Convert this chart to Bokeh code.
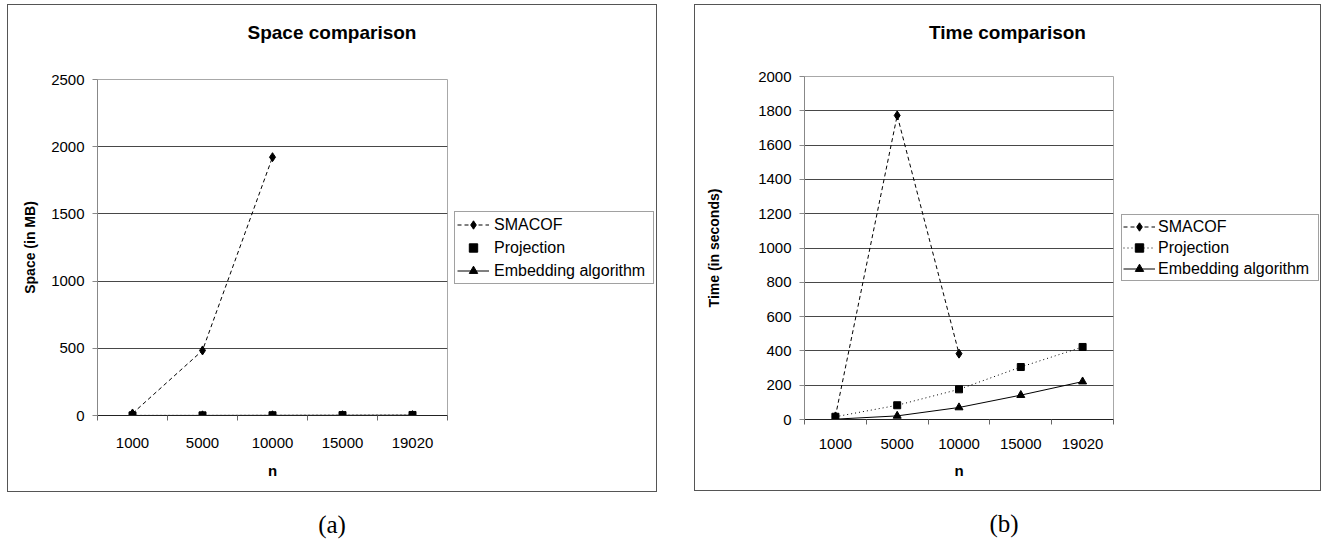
from bokeh.plotting import figure
from bokeh.models import (Range1d, FixedTicker, SingleIntervalTicker, Legend, LegendItem,
                          Div, Spacer)
from bokeh.layouts import row, column
from bokeh.embed import file_html
from bokeh.resources import INLINE

nan = float("nan")

# ---------------- data ----------------
categories = ["1000", "5000", "10000", "15000", "19020"]
series_names = ["SMACOF", "Projection", "Embedding algorithm"]

space_smacof = [15, 484, 1922, nan, nan]
space_projection = [1, 1, 2, 3, 4]
space_embedding = [0.2, 0.5, 1, 1.5, 2]

time_smacof = [18, 1773, 384, nan, nan]
time_projection = [16, 83, 176, 306, 423]
time_embedding = [2, 21, 70, 142, 221]

space_title = "Space comparison"
time_title = "Time comparison"
space_ylabel = "Space (in MB)"
time_ylabel = "Time (in seconds)"
xlabel = "n"

SANS = "Liberation Sans"
SERIF = "Liberation Serif"

STYLES = [
    dict(line_dash="4 3", marker="diamond", size=9),
    dict(line_dash="1 3", marker="square", size=7),
    dict(line_dash="solid", marker="triangle", size=8),
]


def draw_series(p, xs, ys):
    rends = []
    for vals, st in zip(ys, STYLES):
        ln = p.line(xs, vals, line_color="black", line_width=1, line_dash=st["line_dash"])
        mk = p.scatter(xs, vals, marker=st["marker"], size=st["size"], color="black")
        rends.append((ln, mk))
    return rends


def make_plot(ylabel, ys, ymax, ystep, geo):
    xs = [i + 0.5 for i in range(len(categories))]
    p = figure(width=geo["width"], height=geo["height"], output_backend="svg", toolbar_location=None,
               x_range=Range1d(0, len(categories)), y_range=Range1d(0, ymax),
               min_border_left=geo["bl"], min_border_right=geo["br"],
               min_border_top=geo["bt"], min_border_bottom=geo["bb"])
    p.background_fill_color = "white"
    p.border_fill_color = "white"
    p.outline_line_color = "#a8a8a8"
    p.outline_line_width = 1

    xa = p.xaxis[0]
    xa.ticker = FixedTicker(ticks=xs, minor_ticks=list(range(len(categories) + 1)))
    xa.major_label_overrides = {x: c for x, c in zip(xs, categories)}
    xa.major_tick_out = 0
    xa.major_tick_in = 0
    xa.minor_tick_out = 5
    xa.minor_tick_in = 0
    xa.minor_tick_line_color = "#666666"
    xa.axis_line_color = "#222222"
    xa.major_label_text_font = SANS
    xa.major_label_text_font_size = "15px"
    xa.major_label_text_color = "black"
    xa.major_label_standoff = geo["xstand"]
    xa.axis_label = xlabel
    xa.axis_label_text_font = SANS
    xa.axis_label_text_font_style = "bold"
    xa.axis_label_text_font_size = "15px"
    xa.axis_label_text_color = "black"
    xa.axis_label_standoff = geo["nstand"]

    ya = p.yaxis[0]
    ya.ticker = SingleIntervalTicker(interval=ystep, num_minor_ticks=0)
    ya.major_tick_out = 5
    ya.major_tick_in = 0
    ya.minor_tick_out = 0
    ya.minor_tick_in = 0
    ya.major_tick_line_color = "#888888"
    ya.axis_line_color = "#888888"
    ya.major_label_text_font = SANS
    ya.major_label_text_font_size = "15px"
    ya.major_label_text_color = "black"
    ya.major_label_standoff = 8
    ya.axis_label = ylabel
    ya.axis_label_text_font = SANS
    ya.axis_label_text_font_style = "bold"
    ya.axis_label_text_font_size = "14px"
    ya.axis_label_text_color = "black"
    ya.axis_label_standoff = geo["ystand"]

    p.xgrid.visible = False
    p.ygrid.grid_line_color = "#484848"
    p.ygrid.grid_line_width = 1

    draw_series(p, xs, ys)
    return p


def make_legend_fig(ys, geo, proj_legend_line):
    # legend area of the chart box; series drawn out of view so only the legend shows
    xs = [i + 0.5 for i in range(len(categories))]
    q = figure(width=geo["lw"], height=geo["height"], output_backend="svg", toolbar_location=None,
               x_range=Range1d(-20, -10), y_range=Range1d(-20, -10),
               x_axis_location=None, y_axis_location=None,
               min_border_left=0, min_border_right=0, min_border_top=0, min_border_bottom=0)
    q.grid.visible = False
    q.outline_line_color = None
    q.background_fill_color = "white"
    q.border_fill_color = "white"
    rends = draw_series(q, xs, ys)
    items = []
    for i, (ln, mk) in enumerate(rends):
        r = [ln, mk] if (i != 1 or proj_legend_line) else [mk]
        items.append(LegendItem(label=series_names[i], renderers=r))
    leg = Legend(items=items, location=geo["leg_loc"], orientation="vertical",
                 glyph_width=32, glyph_height=21, label_height=21, label_width=geo["leg_lw"],
                 label_standoff=geo["leg_stand"], padding=geo["leg_pad"], spacing=geo["leg_sp"],
                 margin=0, border_line_color="#444444", border_line_width=1,
                 background_fill_color="white", background_fill_alpha=1,
                 label_text_font=SANS, label_text_font_size="16px", label_text_color="black")
    q.add_layout(leg)
    return q


def title_div(text, width):
    return Div(text=text, width=width, height=40, margin=0,
               styles={"font-family": SANS, "font-size": "19px", "font-weight": "bold",
                       "line-height": "19px", "text-align": "center", "padding-top": "18px",
                       "box-sizing": "border-box", "color": "black",
                       "background-color": "white"})


def caption(text, width, pad_right=0):
    return Div(text=text, width=width, height=44, margin=0,
               styles={"font-family": SERIF, "font-size": "25px", "line-height": "25px",
                       "text-align": "center", "padding-top": "20px",
                       "padding-right": f"{pad_right}px", "box-sizing": "border-box",
                       "color": "black"})


BOX = {"border": "1px solid #555555", "box-sizing": "content-box", "background-color": "white"}

geo_a = dict(width=441, height=446, bl=89, br=2, bt=34, bb=76,
             xstand=17, nstand=11, ystand=10,
             lw=207, leg_loc=(5, 131), leg_lw=157, leg_stand=5, leg_pad=2, leg_sp=2)
geo_b = dict(width=420, height=445, bl=109, br=2, bt=31, bb=71,
             xstand=14, nstand=10, ystand=33,
             lw=205, leg_loc=(6, 138), leg_lw=159, leg_stand=3, leg_pad=1, leg_sp=0)

ys_a = (space_smacof, space_projection, space_embedding)
ys_b = (time_smacof, time_projection, time_embedding)

pa = make_plot(space_ylabel, ys_a, 2500, 500, geo_a)
la = make_legend_fig(ys_a, geo_a, False)
pb = make_plot(time_ylabel, ys_b, 2000, 200, geo_b)
lb = make_legend_fig(ys_b, geo_b, True)

box_a = column(title_div(space_title, 648), row(pa, la, spacing=0), spacing=0, styles=BOX)
box_b = column(title_div(time_title, 625), row(pb, lb, spacing=0), spacing=0, styles=BOX)
col_a = column(box_a, caption("(a)", 650), spacing=0)
col_b = column(box_b, caption("(b)", 627, 7), spacing=0)
layout = column(Spacer(height=4),
                row(Spacer(width=7), col_a, Spacer(width=37), col_b, spacing=0),
                spacing=0)
open("out.html", "w").write(file_html(layout, INLINE))
